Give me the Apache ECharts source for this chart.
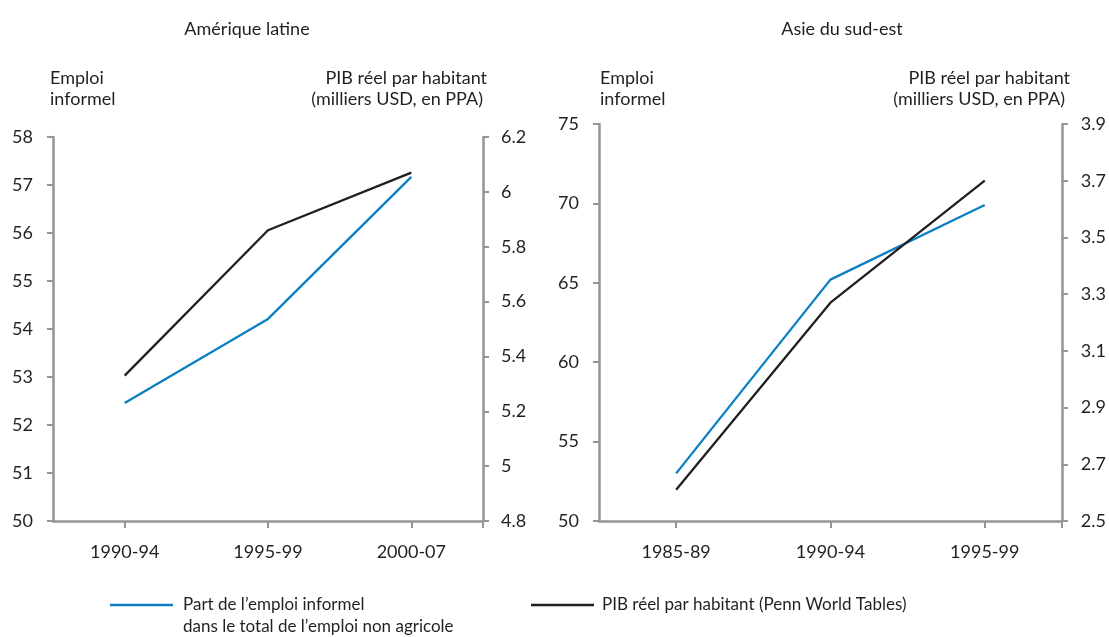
<!DOCTYPE html>
<html>
<head>
<meta charset="utf-8">
<script src="https://cdn.jsdelivr.net/npm/echarts@6/dist/echarts.min.js"></script>
<style>html,body{margin:0;padding:0;background:#fff}#c{width:1109px;height:637px}</style>
</head>
<body>
<div id="c"></div>
<script>
const titleLA = 'Amérique latine';
const titleSEA = 'Asie du sud-est';
const catLA = ['1990-94', '1995-99', '2000-07'];
const catSEA = ['1985-89', '1990-94', '1995-99'];
const informalLA = [52.46, 54.21, 57.17];
const gdpLA = [5.33, 5.86, 6.07];
const informalSEA = [53.0, 65.2, 69.9];
const gdpSEA = [2.61, 3.27, 3.70];
const nameInformal = 'Part de l’emploi informel\ndans le total de l’emploi non agricole';
const nameGdp = 'PIB réel par habitant (Penn World Tables)';
const leftAxisName = 'Emploi\ninformel';
const rightAxisName1 = 'PIB réel par habitant';
const rightAxisName2 = '(milliers USD, en PPA)';

const FONT = 'Lato';
const TXT = '#231f20';
const AX = '#939598';
const BLUE = '#0b7fc4';
const BLACK = '#231f20';

function yAx(grid, min, max, interval, pos, margin) {
  return {
    type: 'value', gridIndex: grid, min: min, max: max, interval: interval, position: pos,
    splitLine: { show: false },
    axisLine: { show: true, lineStyle: { color: AX, width: 2.5 } },
    axisTick: { show: true, length: 6, lineStyle: { color: AX, width: 2 } },
    axisLabel: { color: TXT, fontFamily: FONT, fontSize: 18, margin: margin }
  };
}
function xAx(grid, cats) {
  return {
    type: 'category', gridIndex: grid, data: cats, boundaryGap: true,
    axisLine: { show: true, lineStyle: { color: AX, width: 2.5 } },
    axisTick: { show: true, alignWithLabel: true, length: 7, lineStyle: { color: AX, width: 2 } },
    axisLabel: { color: TXT, fontFamily: FONT, fontSize: 18, margin: 22 }
  };
}
// helper axis: only the tick at the right end of the category axis
function endTickAx(grid, n) {
  return {
    type: 'value', gridIndex: grid, min: 0, max: n, position: 'bottom',
    splitLine: { show: false },
    axisLine: { show: false },
    axisTick: { show: true, length: 7, customValues: [n], lineStyle: { color: AX, width: 2 } },
    axisLabel: { show: false }
  };
}
function line(name, x, y, data, color) {
  return { type: 'line', name: name, xAxisIndex: x, yAxisIndex: y, data: data, symbol: 'none',
    lineStyle: { color: color, width: 2.3 }, itemStyle: { color: color } };
}
const txtStyle = { fill: TXT, font: '18px ' + FONT, lineHeight: 21 };

const chart = echarts.init(document.getElementById('c'));
chart.setOption({
  animation: false,
  textStyle: { fontFamily: FONT },
  title: [
    { text: titleLA, left: 242, top: 15, textAlign: 'center', textStyle: { color: TXT, fontFamily: FONT, fontSize: 18, fontWeight: 'normal' } },
    { text: titleSEA, left: 837, top: 15, textAlign: 'center', textStyle: { color: TXT, fontFamily: FONT, fontSize: 18, fontWeight: 'normal' } }
  ],
  grid: [
    { left: 53, top: 137, width: 430, height: 384 },
    { left: 599, top: 124, width: 464, height: 397 }
  ],
  xAxis: [xAx(0, catLA), xAx(1, catSEA), endTickAx(0, catLA.length), endTickAx(1, catSEA.length)],
  yAxis: [
    yAx(0, 50, 58, 1, 'left', 20),
    yAx(0, 4.8, 6.2, 0.2, 'right', 18),
    yAx(1, 50, 75, 5, 'left', 20),
    yAx(1, 2.5, 3.9, 0.2, 'right', 19)
  ],
  legend: [
    { data: [nameInformal], left: 110, top: 572, padding: 0, icon: 'rect', itemWidth: 63, itemHeight: 2.5,
      formatter: function (n) { return ' \n' + n; },
      textStyle: { color: TXT, fontFamily: FONT, fontSize: 17, lineHeight: 22, padding: [0, 0, 0, 5] } },
    { data: [nameGdp], left: 531, top: 594, padding: 0, icon: 'rect', itemWidth: 63, itemHeight: 2.5,
      textStyle: { color: TXT, fontFamily: FONT, fontSize: 17, lineHeight: 22, padding: [0, 0, 0, 3] } }
  ],
  graphic: [
    { type: 'text', left: 50, top: 68, style: Object.assign({ text: leftAxisName }, txtStyle) },
    { type: 'text', right: 1109 - 487, top: 68, style: Object.assign({ text: rightAxisName1 }, txtStyle) },
    { type: 'text', right: 1109 - 483, top: 89, style: Object.assign({ text: rightAxisName2 }, txtStyle) },
    { type: 'text', left: 600, top: 68, style: Object.assign({ text: leftAxisName }, txtStyle) },
    { type: 'text', right: 1109 - 1070, top: 68, style: Object.assign({ text: rightAxisName1 }, txtStyle) },
    { type: 'text', right: 1109 - 1065, top: 89, style: Object.assign({ text: rightAxisName2 }, txtStyle) }
  ],
  series: [
    line(nameInformal, 0, 0, informalLA, BLUE),
    line(nameGdp, 0, 1, gdpLA, BLACK),
    line(nameInformal, 1, 2, informalSEA, BLUE),
    line(nameGdp, 1, 3, gdpSEA, BLACK)
  ]
});
</script>
</body>
</html>
